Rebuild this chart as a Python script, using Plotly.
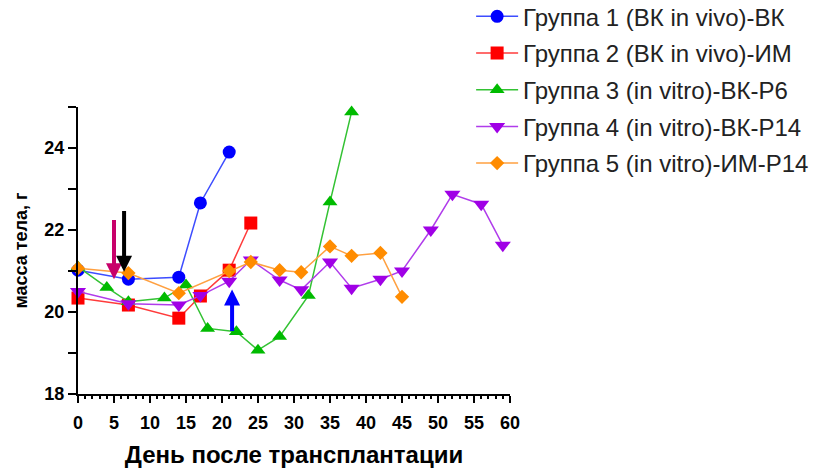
import plotly.graph_objects as go

# ---- data ----
names = [
    "Группа 1 (ВК in vivo)-ВК",
    "Группа 2 (ВК in vivo)-ИМ",
    "Группа 3 (in vitro)-ВК-P6",
    "Группа 4 (in vitro)-ВК-P14",
    "Группа 5 (in vitro)-ИМ-P14",
]
g1_x = [0, 7, 14, 17, 21]
g1_y = [21.02, 20.80, 20.85, 22.66, 23.90]
g2_x = [0, 7, 14, 17, 21, 24]
g2_y = [20.34, 20.17, 19.85, 20.39, 21.02, 22.17]
g3_x = [0, 4, 7, 12, 15, 18, 22, 25, 28, 32, 35, 38]
g3_y = [21.10, 20.60, 20.25, 20.34, 20.66, 19.60, 19.52, 19.07, 19.40, 20.40, 22.68, 24.88]
g4_x = [0, 7, 14, 17, 21, 24, 28, 31, 35, 38, 42, 45, 49, 52, 56, 59]
g4_y = [20.50, 20.20, 20.17, 20.40, 20.75, 21.27, 20.78, 20.54, 21.22, 20.58, 20.80, 21.00, 22.00, 22.87, 22.63, 21.63]
g5_x = [0, 7, 14, 21, 24, 28, 31, 35, 38, 42, 45]
g5_y = [21.07, 20.95, 20.46, 21.00, 21.22, 21.02, 20.97, 21.60, 21.37, 21.44, 20.37]

xs = [g1_x, g2_x, g3_x, g4_x, g5_x]
ys = [g1_y, g2_y, g3_y, g4_y, g5_y]
symbols = ["circle", "square", "triangle-up", "triangle-down", "diamond"]
marker_colors = ["#0000FF", "#FF0000", "#00BB00", "#A000E6", "#FF8C00"]
line_colors = ["#3D4DFF", "#FF3B3B", "#33C233", "#B03CEB", "#FFA040"]
marker_sizes = [13, 13, 13, 14, 11]

# arrows: (x, tip_y, tail_y, color)
arrows = [
    (5.0, 20.80, 22.28, "#C8006A"),
    (6.4, 20.98, 22.50, "#000000"),
    (21.4, 20.55, 19.50, "#0000FF"),
]

x_ticks = list(range(0, 61, 5))
y_ticks = list(range(18, 26))
y_labels = [str(v) if v % 2 == 0 and v < 25 else "" for v in y_ticks]

fig = go.Figure()
for i in range(5):
    fig.add_trace(go.Scatter(
        x=xs[i], y=ys[i], name=names[i], mode="lines+markers",
        line=dict(color=line_colors[i], width=1.5),
        marker=dict(symbol=symbols[i], size=marker_sizes[i], color=marker_colors[i],
                    line=dict(width=0)),
        cliponaxis=False, legendgroup=str(i),
    ))

for (ax_, tip, tail, col) in arrows:
    fig.add_annotation(
        x=ax_, y=tip, ax=ax_, ay=tail, xref="x", yref="y", axref="x", ayref="y",
        showarrow=True, arrowhead=2, arrowwidth=4, arrowsize=0.8, arrowcolor=col, text="",
    )

fig.update_layout(
    width=813, height=468,
    margin=dict(l=78, r=303, t=107, b=74, autoexpand=False),
    paper_bgcolor="white", plot_bgcolor="white",
    font=dict(family="Liberation Sans, Arial, sans-serif", color="#000"),
    legend=dict(
        x=0.91, y=1.393, xanchor="left", yanchor="top",
        font=dict(size=24, color="#222"), tracegroupgap=2.5, itemwidth=42,
        bgcolor="rgba(0,0,0,0)",
    ),
    showlegend=True,
)
fig.update_xaxes(
    range=[0, 60], tickvals=x_ticks, ticktext=[str(v) for v in x_ticks],
    showgrid=False, zeroline=False, showline=True, linecolor="#000", linewidth=2,
    ticks="outside", ticklen=7, tickwidth=2, tickcolor="#000",
    minor=dict(dtick=1, ticks="outside", ticklen=3, tickwidth=1.5, tickcolor="#000"),
    tickfont=dict(size=18, weight="bold"), ticklabelstandoff=4,
    title=dict(text="День после трансплантации", font=dict(size=24, weight="bold"), standoff=16),
)
fig.update_yaxes(
    range=[18, 25], tickvals=y_ticks, ticktext=y_labels,
    showgrid=False, zeroline=False, showline=True, linecolor="#000", linewidth=2,
    ticks="outside", ticklen=8, tickwidth=2, tickcolor="#000",
    tickfont=dict(size=18, weight="bold"),
    title=dict(text="масса тела, г", font=dict(size=18, weight="bold"), standoff=12),
)

fig.write_html("out.html")
